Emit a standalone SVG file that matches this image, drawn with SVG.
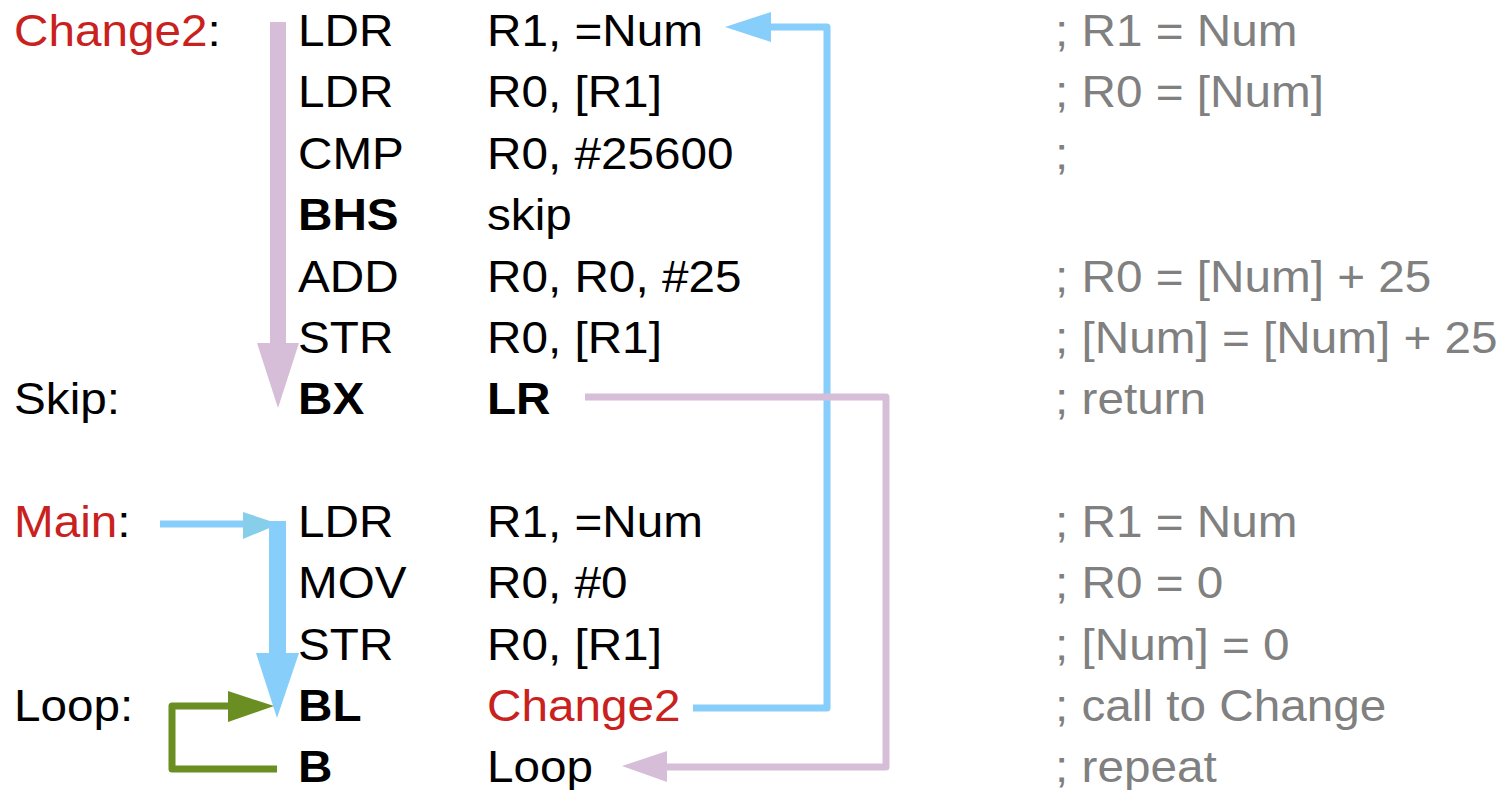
<svg xmlns="http://www.w3.org/2000/svg" width="1504" height="790" viewBox="0 0 1504 790">
<style>
text{font-family:"Liberation Sans",Arial,sans-serif;font-size:45px;fill:#000}
.r{fill:#c9211e}
.c{fill:#808080}
.b{font-weight:bold}
.pk{stroke:#d7bed8;fill:none;stroke-width:7;stroke-linejoin:round}
.bl{stroke:#87cefa;fill:none;stroke-width:7;stroke-linejoin:round}
.gr{stroke:#6b8e23;fill:none;stroke-width:7;stroke-linejoin:round}
</style>
<g id="connectors">
  <rect x="270" y="22" width="16" height="322" fill="#d7bed8"/>
  <polygon points="257,343 299,343 278,408" fill="#d7bed8"/>
  <path class="bl" d="M693 708 H827 V27 H768"/>
  <polygon points="725,27 771,12 771,42" fill="#87cefa"/>
  <path class="pk" d="M585 397 H886 V767 H664"/>
  <polygon points="622,766 667,751 667,782" fill="#d7bed8"/>
  <path class="bl" d="M160 524 H246" stroke="#87ceeb"/>
  <polygon points="243,512 243,539 279,524" fill="#87ceeb"/>
  <rect x="269" y="521" width="17" height="133" fill="#87cefa"/>
  <polygon points="256,653 299,653 277,718" fill="#87cefa"/>
  <path class="gr" d="M277 769 H172 V706 H232"/>
  <polygon points="228,691 228,722 274,706" fill="#6b8e23"/>
</g>
<g id="code" transform="scale(1.06,1)">
<g id="row1"><text x="13.2" y="46"><tspan class="r">Change2</tspan>:</text><text x="281.1" y="46">LDR</text><text x="459.4" y="46">R1, =Num</text><text class="c" x="995.3" y="46">; R1 = Num</text></g>
<g id="row2"><text x="281.1" y="107">LDR</text><text x="459.4" y="107">R0, [R1]</text><text class="c" x="995.3" y="107">; R0 = [Num]</text></g>
<g id="row3"><text x="281.1" y="169">CMP</text><text x="459.4" y="169">R0, #25600</text><text class="c" x="995.3" y="169">;</text></g>
<g id="row4"><text class="b" x="281.1" y="230">BHS</text><text x="459.4" y="230">skip</text></g>
<g id="row5"><text x="281.1" y="292">ADD</text><text x="459.4" y="292">R0, R0, #25</text><text class="c" x="995.3" y="292">; R0 = [Num] + 25</text></g>
<g id="row6"><text x="281.1" y="353">STR</text><text x="459.4" y="353">R0, [R1]</text><text class="c" x="995.3" y="353">; [Num] = [Num] + 25</text></g>
<g id="row7"><text x="13.2" y="414">Skip:</text><text class="b" x="281.1" y="414">BX</text><text class="b" x="459.4" y="414">LR</text><text class="c" x="995.3" y="414">; return</text></g>
<g id="row9"><text x="13.2" y="537"><tspan class="r">Main</tspan>:</text><text x="281.1" y="537">LDR</text><text x="459.4" y="537">R1, =Num</text><text class="c" x="995.3" y="537">; R1 = Num</text></g>
<g id="row10"><text x="281.1" y="598">MOV</text><text x="459.4" y="598">R0, #0</text><text class="c" x="995.3" y="598">; R0 = 0</text></g>
<g id="row11"><text x="281.1" y="660">STR</text><text x="459.4" y="660">R0, [R1]</text><text class="c" x="995.3" y="660">; [Num] = 0</text></g>
<g id="row12"><text x="13.2" y="721">Loop:</text><text class="b" x="281.1" y="721">BL</text><text class="r" x="459.4" y="721">Change2</text><text class="c" x="995.3" y="721">; call to Change</text></g>
<g id="row13"><text class="b" x="281.1" y="782">B</text><text x="459.4" y="782">Loop</text><text class="c" x="995.3" y="782">; repeat</text></g>
</g>
</svg>
